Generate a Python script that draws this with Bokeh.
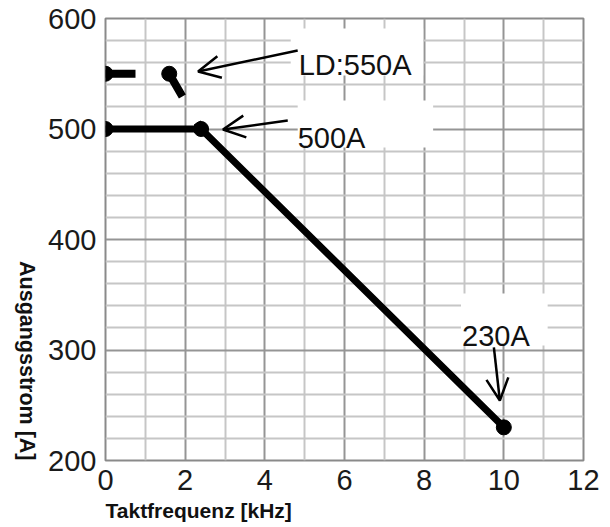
import math
from bokeh.plotting import figure
from bokeh.models import (Range1d, FixedTicker, Label, Arrow, OpenHead,
                          BoxAnnotation, Title)
from bokeh.embed import file_html
from bokeh.resources import INLINE

# ---- data ----
freq_main = [0, 2.4, 10]
current_main = [500, 500, 230]
freq_ld = [0, 1.6, 2.4]
current_ld = [550, 550, 500]
ld_marker_x = [0, 1.6]
ld_marker_y = [550, 550]

x_ticks = [0, 2, 4, 6, 8, 10, 12]
x_minor = [1, 3, 5, 7, 9, 11]
y_ticks = [200, 300, 400, 500, 600]
y_minor = [220, 240, 260, 280, 320, 340, 360, 380, 420, 440, 460, 480,
           520, 540, 560, 580]

x_title = "Taktfrequenz [kHz]"
y_title = "Ausgangsstrom [A]"

FONT = "Liberation Sans"

p = figure(width=610, height=527, output_backend="svg", toolbar_location=None,
           x_range=Range1d(0, 12), y_range=Range1d(200, 600),
           min_border_left=104, min_border_right=27, min_border_top=18,
           min_border_bottom=67)
p.background_fill_color = "white"
p.border_fill_color = "white"
p.outline_line_color = "#8a8a8a"
p.outline_line_width = 2

# axes
for ax in (p.xaxis, p.yaxis):
    ax.axis_line_color = None
    ax.major_tick_line_color = None
    ax.minor_tick_line_color = None
    ax.major_tick_out = 0
    ax.major_tick_in = 0
    ax.major_label_text_font = FONT
    ax.major_label_text_font_size = "29px"
    ax.major_label_text_color = "#1a1a1a"
    ax.axis_label_text_font = FONT
    ax.axis_label_text_font_style = "bold"
    ax.axis_label_text_color = "#111111"
p.xaxis.ticker = FixedTicker(ticks=x_ticks)
p.yaxis.ticker = FixedTicker(ticks=y_ticks)
p.xaxis.major_label_standoff = 9
p.yaxis.major_label_standoff = 9

p.yaxis.axis_label = y_title
p.yaxis.axis_label_text_font_size = "21.5px"
p.yaxis.axis_label_standoff = 18
try:
    p.yaxis.axis_label_align = "start"
    p.yaxis.axis_label_orientation = -math.pi / 2
except Exception:
    pass

# x title as a below-panel title, left aligned to the frame
p.add_layout(Title(text=x_title, align="left", offset=0, standoff=8,
                   text_font=FONT, text_font_style="bold",
                   text_font_size="21px", text_color="#111111"), "below")

# grid
p.xgrid.ticker = FixedTicker(ticks=x_ticks, minor_ticks=x_minor)
p.ygrid.ticker = FixedTicker(ticks=y_ticks, minor_ticks=y_minor)
for g in (p.xgrid, p.ygrid):
    g.grid_line_color = "#959595"
    g.grid_line_width = 2
    g.minor_grid_line_color = "#c6c6c6"
    g.minor_grid_line_width = 2

# white label boxes
for (l, r, b, t) in [(4.65, 7.975, 548.4, 590.9),
                     (4.825, 8.225, 483.3, 525.8),
                     (8.925, 11.1, 304.1, 351.1)]:
    p.add_layout(BoxAnnotation(left=l, right=r, bottom=b, top=t,
                               fill_color="white", fill_alpha=1.0,
                               line_color=None, level="underlay"))

# data
p.line(freq_ld, current_ld, line_color="black", line_width=8,
       line_dash="30 30")
p.scatter(ld_marker_x, ld_marker_y, size=15, color="black")
p.line(freq_main, current_main, line_color="black", line_width=7)
p.scatter(freq_main, current_main, size=15, color="black")

# annotation texts
for txt, x, y in [("LD:550A", 4.85, 557.5), ("500A", 4.825, 492.3),
                  ("230A", 8.95, 313.1)]:
    p.add_layout(Label(x=x, y=y, text=txt, text_font=FONT,
                       text_font_size="29px", text_color="#111111",
                       text_baseline="alphabetic", text_align="left"))

# arrows
for (xs, ys, xe, ye) in [(4.825, 571, 2.325, 552),
                         (4.575, 507.7, 2.95, 499.5),
                         (9.75, 302.3, 9.9, 254.3)]:
    p.add_layout(Arrow(x_start=xs, y_start=ys, x_end=xe, y_end=ye,
                       line_width=2.5, line_color="black",
                       end=OpenHead(size=22, line_width=2.5,
                                    line_color="black")))

open("out.html", "w").write(file_html(p, INLINE))
